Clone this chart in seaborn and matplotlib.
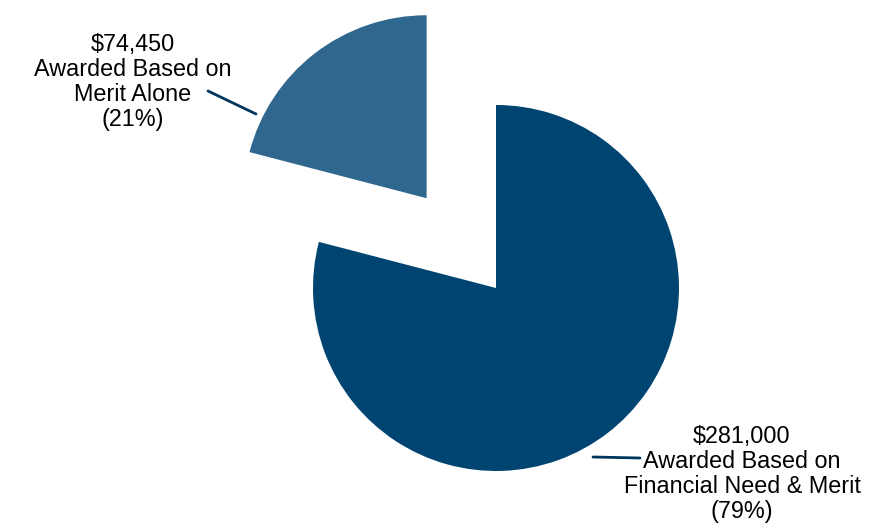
import seaborn as sns
import matplotlib.pyplot as plt

# data
labels = ['Awarded Based on\nFinancial Need & Merit', 'Awarded Based on\nMerit Alone']
amounts = [281000, 74450]
pcts = ['(79%)', '(21%)']
colors = ['#004571', '#30678F']

sns.set_style('white')
plt.rcParams['font.family'] = ['Liberation Sans', 'DejaVu Sans']

R = 183.0  # pie radius in pixels
CX, CY = 496.0, 288.0  # pie centre in pixels (from top left)


def px(x, y):
    # pixel position -> data coords
    return (x - CX) / R, (CY - y) / R


fig = plt.figure(figsize=(8.96, 5.25), dpi=100)
ax = fig.add_axes([0, 0, 1, 1])
ax.pie(amounts, colors=colors, startangle=90, counterclock=False,
       explode=[0, 0.62], radius=1, wedgeprops=dict(linewidth=0))
ax.set_xlim(-CX / R, (896 - CX) / R)
ax.set_ylim(-(525 - CY) / R, CY / R)
ax.axis('off')

texts = ['${:,}\n{}\n{}'.format(a, l, p) for a, l, p in zip(amounts, labels, pcts)]

# big slice label
ax.text(*px(742, 474), texts[0], ha='center', va='center', fontsize=16.8,
        linespacing=1.12, color='black')
ax.plot(*zip(px(593, 457), px(640, 458)), color='#00365e', lw=2)

# small slice label
ax.text(*px(133, 82), texts[1], ha='center', va='center', fontsize=16.8,
        linespacing=1.12, color='black')
ax.plot(*zip(px(208, 91), px(256, 114)), color='#00365e', lw=2)

fig.savefig('out.png', dpi=100)
plt.close()
